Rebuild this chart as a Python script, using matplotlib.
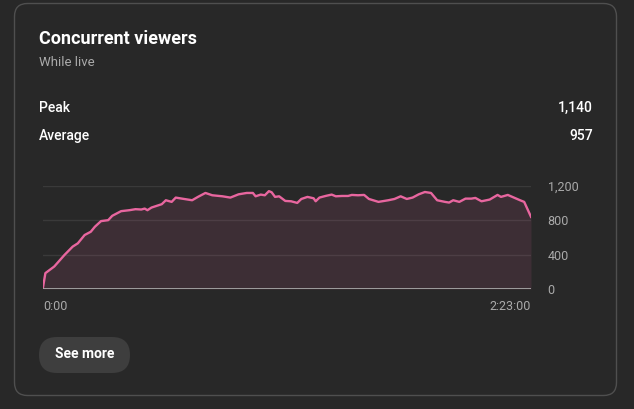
import matplotlib
matplotlib.use("Agg")
import matplotlib.pyplot as plt
from matplotlib.patches import FancyBboxPatch

plt.rcParams['font.family'] = ['Roboto', 'DejaVu Sans']

# ---- data (minutes since start, concurrent viewers) ----
minutes = [0, 0.7, 3.3, 6.3, 8.7, 10.2, 12.2, 14.0, 15.2, 17.0, 19.1, 20.3, 22.9,
           25.3, 27.1, 28.8, 29.8, 30.6, 31.8, 34.8, 36.0, 37.7, 38.9, 40.7, 43.7,
           45.4, 47.6, 49.6, 52.6, 54.9, 57.3, 59.7, 61.5, 62.3, 63.8, 65.0, 66.2,
           67.0, 68.0, 69.2, 71.0, 72.7, 74.5, 75.7, 77.5, 79.3, 79.9, 81.0, 82.8,
           84.6, 85.8, 87.6, 89.4, 90.5, 92.3, 94.1, 95.5, 98.3, 101.2, 103.0, 104.8,
           106.6, 108.3, 110.1, 111.9, 113.7, 115.5, 117.8, 119.0, 120.2, 122.0,
           123.8, 125.5, 126.7, 128.5, 130.9, 133.2, 134.2, 136.2, 138.0, 139.8,
           141.0, 143.0]
viewers = [20, 185, 262, 397, 494, 532, 629, 667, 725, 791, 802, 853, 907,
           918, 930, 926, 937, 918, 949, 988, 1034, 1015, 1065, 1053, 1034,
           1073, 1119, 1092, 1080, 1065, 1103, 1119, 1119, 1080, 1100, 1092, 1140,
           1127, 1073, 1080, 1026, 1022, 1003, 1049, 1073, 1057, 1022, 1065, 1084,
           1100, 1080, 1084, 1084, 1096, 1092, 1096, 1049, 1015, 1034, 1049, 1080,
           1049, 1065, 1103, 1130, 1119, 1034, 1015, 1007, 1034, 1015,
           1053, 1053, 1061, 1022, 1042, 1096, 1073, 1096, 1065, 1034,
           1015, 841]
y_ticks = [0, 400, 800, 1200]
y_tick_labels = ["0", "400", "800", "1,200"]
x_ticks = [0, 143]
x_tick_labels = ["0:00", "2:23:00"]
title = "Concurrent viewers"
subtitle = "While live"
stat_names = ["Peak", "Average"]
stat_values = ["1,140", "957"]
button_label = "See more"

W, H = 634, 409
BG = "#282828"
fig = plt.figure(figsize=(W / 100, H / 100), dpi=100, facecolor=BG)

# background layer in pixel coordinates
bg = fig.add_axes([0, 0, 1, 1])
bg.set_xlim(0, W)
bg.set_ylim(H, 0)
bg.axis("off")
bg.add_patch(FancyBboxPatch((14.5, 3.5), 602, 392,
                            boxstyle="round,pad=0,rounding_size=13",
                            facecolor=BG, edgecolor="#4f4f4f", lw=1.0))
bg.add_patch(FancyBboxPatch((39, 337), 91, 36,
                            boxstyle="round,pad=0,rounding_size=18",
                            facecolor="#3e3e3e", edgecolor="none"))

bg.text(39, 38.5, title, color="white", fontsize=13, fontweight="bold",
        va="center", ha="left")
bg.text(39, 62, subtitle, color="#aaaaaa", fontsize=9.5, va="center", ha="left")
for i, (n, v) in enumerate(zip(stat_names, stat_values)):
    yy = 108 + 28 * i
    bg.text(39, yy, n, color="white", fontsize=10, fontweight="medium",
            va="center", ha="left")
    bg.text(593, yy, v, color="white", fontsize=10, fontweight="medium",
            va="center", ha="right")
bg.text(84.5, 354, button_label, color="white", fontsize=10, fontweight="bold",
        va="center", ha="center")

# chart
ax = fig.add_axes([43 / W, 1 - 289 / H, (531 - 43) / W, (289 - 186) / H])
ax.set_facecolor("none")
ax.set_xlim(x_ticks[0], x_ticks[-1])
ax.set_ylim(0, 1200)
for t in y_ticks[1:]:
    ax.axhline(t, color="#3a3a3a", lw=1, zorder=1)
ax.fill_between(minutes, viewers, 0, color="#e8669f", alpha=0.11, lw=0, zorder=2)
ax.plot(minutes, viewers, color="#e8669f", lw=1.7, zorder=3, solid_joinstyle="round")
ax.axhline(0, color="#b0b0b0", lw=1.2, zorder=4)

for s in ax.spines.values():
    s.set_visible(False)
ax.yaxis.tick_right()
ax.set_yticks(y_ticks)
ax.set_yticklabels(y_tick_labels)
ax.tick_params(axis="y", length=0, pad=12, labelsize=9, labelcolor="#aaaaaa")
ax.set_xticks(x_ticks)
ax.set_xticklabels(x_tick_labels)
ax.tick_params(axis="x", length=0, pad=8, labelsize=9, labelcolor="#aaaaaa")
xl = ax.get_xticklabels()
xl[0].set_ha("left")
xl[-1].set_ha("right")
for lab in ax.get_yticklabels():
    lab.set_ha("left")

fig.savefig("out.png", dpi=100, facecolor=BG)
